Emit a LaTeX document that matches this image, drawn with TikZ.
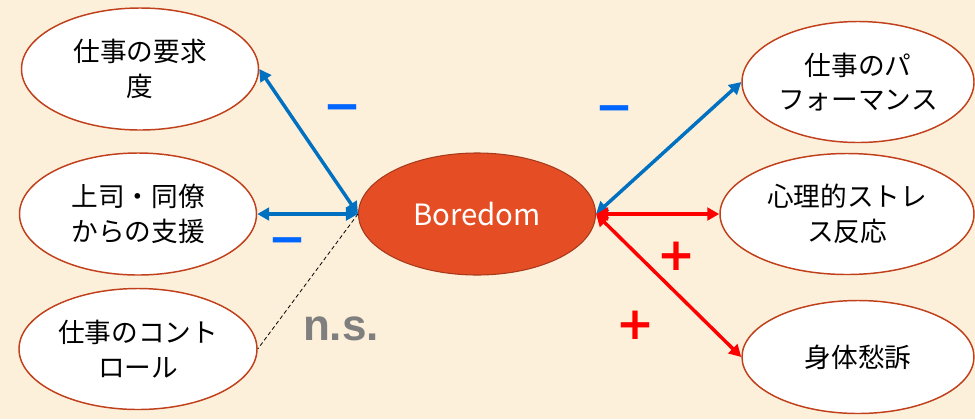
\documentclass[tikz,border=0pt]{standalone}
\usepackage{fontspec}
\setmainfont{Noto Sans CJK JP}
\newfontfamily\signfont{DejaVu Sans}
\newfontfamily\nsfont{Liberation Sans}
\usetikzlibrary{arrows.meta,shapes.geometric}

\definecolor{bgpeach}{RGB}{253,240,218}
\definecolor{rimred}{RGB}{192,64,28}
\definecolor{boredfill}{RGB}{229,78,36}
\definecolor{boredrim}{RGB}{168,58,28}
\definecolor{linkblue}{RGB}{0,112,192}
\definecolor{signblue}{RGB}{0,102,255}
\definecolor{nsgray}{RGB}{127,127,127}

\tikzset{
  factor/.style={ellipse, draw=rimred, line width=1.1pt, fill=white, inner sep=0pt,
    align=center, font=\fontsize{20}{26}\selectfont},
  bluelink/.style={draw=linkblue, line width=2.6pt, <->},
  redlink/.style={draw=red, line width=2.6pt, <->},
  signmark/.style={inner sep=0pt, font=\signfont\bfseries\fontsize{34}{34}\selectfont}
}

\begin{document}
\begin{tikzpicture}[x=0.75pt, y=-0.75pt, >={Triangle[length=9pt,width=9.5pt]}]
	\useasboundingbox (0,0) rectangle (975,419);
	\fill[bgpeach] (0,0) rectangle (975,419);
	% left side
	\node[factor, minimum width=177.75pt, minimum height=91.5pt] (demand) at (140,69) {仕事の要求\\度};
	\node[factor, minimum width=177.75pt, minimum height=91.5pt] (support) at (138,214) {上司・同僚\\からの支援};
	\node[factor, minimum width=178.5pt, minimum height=90.75pt] (control) at (138,349) {仕事のコント\\ロール};
	% center
	\node[ellipse, draw=boredrim, line width=0.8pt, fill=boredfill, text=white,
	  minimum width=177.75pt, minimum height=91.5pt, font=\fontsize{22}{26}\selectfont] (boredom) at (477,214) {Boredom};
	% right side
	\node[factor, minimum width=174pt, minimum height=90.75pt] (perf) at (858,82) {仕事のパ\\フォーマンス};
	\node[factor, minimum width=190.5pt, minimum height=90.75pt] (stress) at (847,214) {心理的ストレ\\ス反応};
	\node[factor, minimum width=174pt, minimum height=84.75pt] (somatic) at (858,357) {身体愁訴};
	% links
	\draw[bluelink] (boredom.west) -- (demand.east);
	\draw[bluelink] (boredom.west) -- (support.east);
	\draw[black, line width=0.6pt, dash pattern=on 3pt off 2pt] (boredom.west) -- (control.east);
	\draw[bluelink] (boredom.east) -- (perf.west);
	\draw[redlink] (boredom.east) -- (stress.west);
	\draw[redlink] (boredom.east) -- (somatic.west);
	% signs
	\node[signmark, text=signblue] (minusA) at (342,113) {−};
	\node[signmark, text=signblue] (minusB) at (287,246) {−};
	\node[signmark, text=signblue] (minusC) at (614,114) {−};
	\node[signmark, text=red] (plusA) at (676,256) {+};
	\node[signmark, text=red] (plusB) at (635,325) {+};
	\node[inner sep=0pt, text=nsgray, font=\nsfont\bfseries\fontsize{33}{33}\selectfont] (ns) at (341,329) {n.s.};
\end{tikzpicture}
\end{document}
